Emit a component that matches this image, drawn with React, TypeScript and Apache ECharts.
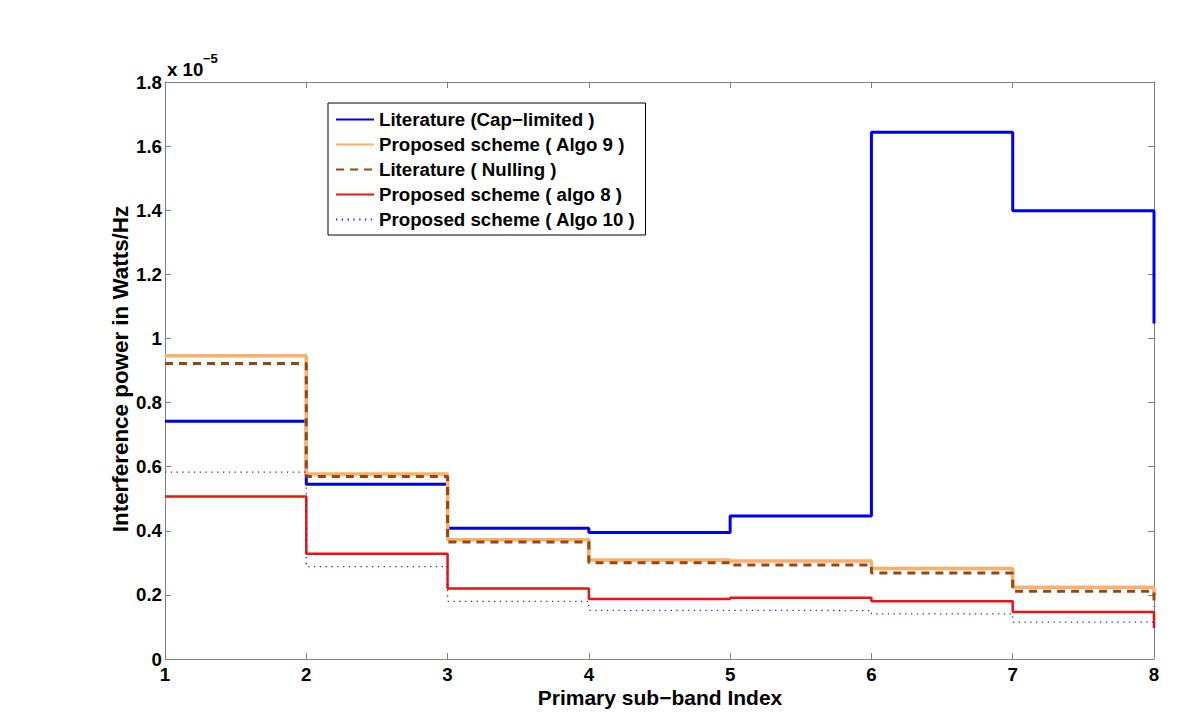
import React, { useEffect, useRef } from "react";
import * as echarts from "echarts";

// Primary sub-band index (x) and interference power in units of 1e-5 W/Hz (y)
const subBands = [1, 2, 3, 4, 5, 6, 7, 8];
const capLimited = [0.742, 0.545, 0.408, 0.395, 0.446, 1.643, 1.398, 1.047];
const algo9 = [0.946, 0.577, 0.372, 0.309, 0.306, 0.282, 0.224, 0.2];
const nulling = [0.922, 0.569, 0.365, 0.3, 0.293, 0.268, 0.211, 0.162];
const algo8 = [0.507, 0.328, 0.22, 0.187, 0.191, 0.18, 0.147, 0.097];
const algo10 = [0.583, 0.288, 0.18, 0.152, 0.151, 0.141, 0.115, 0.09];

const seriesNames = [
  "Literature (Cap\u2212limited )",
  "Proposed scheme ( Algo 9 )",
  "Literature ( Nulling )",
  "Proposed scheme ( algo 8 )",
  "Proposed scheme ( Algo 10 )",
];

const xAxisTitle = "Primary sub\u2212band Index";
const yAxisTitle = "Interference power in Watts/Hz";
const multiplierBase = "x 10";
const multiplierExp = "\u22125";

const FONT = "'Liberation Sans', Arial, Helvetica, sans-serif";
const AXIS_GRAY = "#7f7f7f";

export default function App() {
  const ref = useRef<HTMLDivElement>(null);

  useEffect(() => {
    if (!ref.current) return;
    const chart = echarts.init(ref.current, null, { renderer: "svg" });

    const mk = (
      name: string,
      vals: number[],
      color: string,
      width: number,
      type: any
    ) => ({
      name,
      type: "line",
      step: "end",
      symbol: "none",
      showSymbol: false,
      silent: true,
      data: subBands.map((x, i) => [x, vals[i]]),
      lineStyle: { color, width, type },
      itemStyle: { color },
    });

    const axisCommon = {
      type: "value",
      axisLine: { show: true, onZero: false, lineStyle: { color: AXIS_GRAY, width: 1 } },
      axisTick: { show: true, inside: true, length: 6, lineStyle: { color: AXIS_GRAY, width: 1 } },
      splitLine: { show: false },
    };
    const labelStyle = {
      color: "#000",
      fontSize: 18.7,
      fontWeight: "bold",
      fontFamily: FONT,
    };
    const yFmt = (v: number) => String(parseFloat(v.toFixed(1)));

    chart.setOption({
      animation: false,
      backgroundColor: "#fff",
      grid: { left: 165, right: 46, top: 82, bottom: 59, containLabel: false },
      xAxis: [
        {
          ...axisCommon,
          min: 1,
          max: 8,
          interval: 1,
          position: "bottom",
          axisLabel: { ...labelStyle, margin: 6 },
        },
        {
          ...axisCommon,
          min: 1,
          max: 8,
          interval: 1,
          position: "top",
          axisLabel: { show: false },
        },
      ],
      yAxis: [
        {
          ...axisCommon,
          min: 0,
          max: 1.8,
          interval: 0.2,
          position: "left",
          axisLabel: { ...labelStyle, margin: 3, formatter: yFmt },
        },
        {
          ...axisCommon,
          min: 0,
          max: 1.8,
          interval: 0.2,
          position: "right",
          axisLabel: { show: false },
        },
      ],
      legend: {
        orient: "vertical",
        left: 328,
        top: 103,
        padding: [7, 10, 6, 7],
        itemWidth: 38,
        itemHeight: 18,
        itemGap: 6,
        borderColor: "#000",
        borderWidth: 1,
        backgroundColor: "#fff",
        selectedMode: false,
        itemStyle: { opacity: 0 },
        textStyle: { ...labelStyle, lineHeight: 18 },
        data: seriesNames,
      },
      series: [
        mk(seriesNames[0], capLimited, "#0000f0", 3, "solid"),
        mk(seriesNames[1], algo9, "#f8b06c", 3.5, "solid"),
        mk(seriesNames[2], nulling, "#9a4510", 3, [8, 6]),
        mk(seriesNames[3], algo8, "#f01010", 2.5, "solid"),
        mk(seriesNames[4], algo10, "#2a2a90", 1.3, [1.3, 4.5]),
      ],
      graphic: [
        {
          type: "text",
          left: 167,
          top: 60,
          style: { text: multiplierBase, fontSize: 18.7, fontWeight: "bold", fontFamily: FONT, fill: "#000" },
        },
        {
          type: "text",
          left: 203,
          top: 52,
          style: { text: multiplierExp, fontSize: 13, fontWeight: "bold", fontFamily: FONT, fill: "#000" },
        },
        {
          type: "text",
          x: 660,
          y: 697,
          style: {
            text: xAxisTitle,
            fontSize: 21,
            fontWeight: "bold",
            fontFamily: FONT,
            fill: "#000",
            align: "center",
            verticalAlign: "middle",
          },
        },
        {
          type: "text",
          x: 120,
          y: 369,
          rotation: Math.PI / 2,
          style: {
            text: yAxisTitle,
            fontSize: 22.4,
            fontWeight: "bold",
            fontFamily: FONT,
            fill: "#000",
            align: "center",
            verticalAlign: "middle",
          },
        },
      ],
    });

    return () => chart.dispose();
  }, []);

  return (
    <div
      ref={ref}
      style={{ position: "fixed", left: 0, top: 0, width: 1200, height: 718, background: "#fff" }}
    />
  );
}
